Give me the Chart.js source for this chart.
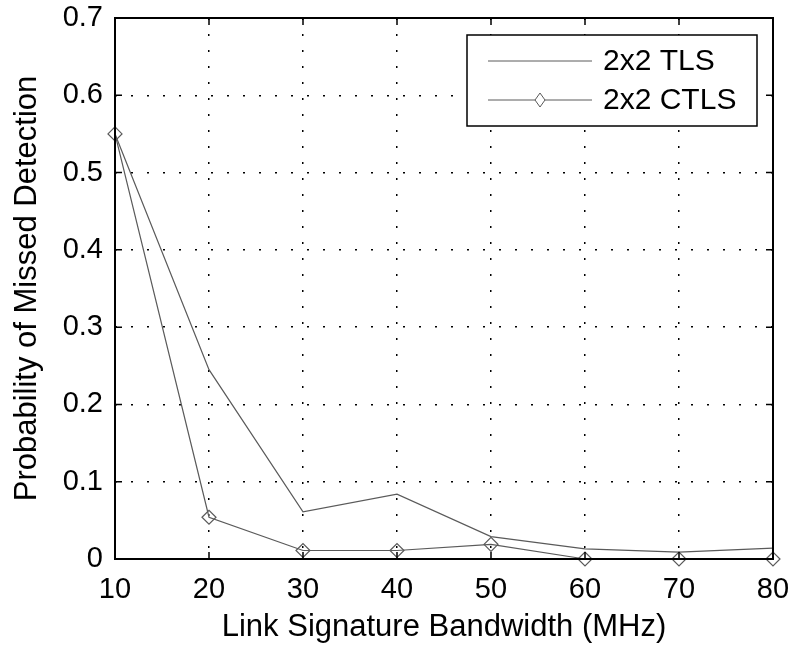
<!DOCTYPE html>
<html>
<head>
<meta charset="utf-8">
<script src="https://cdn.jsdelivr.net/npm/chart.js@4/dist/chart.umd.min.js"></script>
<style>
  html, body { margin: 0; padding: 0; background: #fff; }
  #wrap { width: 795px; height: 650px; }
</style>
</head>
<body>
<div id="wrap"><canvas id="missChart" width="795" height="650"></canvas></div>
<script>
// bandwidth in MHz
const bandwidths = [10, 20, 30, 40, 50, 60, 70, 80];
const tlsValues = [0.55, 0.245, 0.061, 0.084, 0.029, 0.013, 0.009, 0.014];
const ctlsValues = [0.55, 0.054, 0.011, 0.011, 0.019, 0, 0, 0];
const seriesNames = ['2x2 TLS', '2x2 CTLS'];

const FONT = '"Liberation Sans", Arial, Helvetica, sans-serif';
const LINE_COLOR = '#5a5a5a';

// frame, inward ticks and legend box like the matlab figure
const frameLegend = {
    id: 'frameLegend',
    afterDraw(chart) {
        const ctx = chart.ctx;
        const a = chart.chartArea;
        const xs = chart.scales.x, ys = chart.scales.y;
        ctx.save();
        ctx.strokeStyle = '#000';
        ctx.lineWidth = 2;
        ctx.strokeRect(a.left, a.top, a.right - a.left, a.bottom - a.top);

        ctx.lineWidth = 1.5;
        ctx.beginPath();
        xs.ticks.forEach(t => {
            const px = xs.getPixelForValue(t.value);
            ctx.moveTo(px, a.bottom); ctx.lineTo(px, a.bottom - 7);
            ctx.moveTo(px, a.top); ctx.lineTo(px, a.top + 7);
        });
        ys.ticks.forEach(t => {
            const py = ys.getPixelForValue(t.value);
            ctx.moveTo(a.left, py); ctx.lineTo(a.left + 7, py);
            ctx.moveTo(a.right, py); ctx.lineTo(a.right - 7, py);
        });
        ctx.stroke();

        // legend
        const bx = 467, by = 35, bw = 290, bh = 91;
        ctx.fillStyle = '#fff';
        ctx.fillRect(bx, by, bw, bh);
        ctx.lineWidth = 1.5;
        ctx.strokeRect(bx, by, bw, bh);
        const rows = [61, 100];
        chart.data.datasets.forEach((ds, i) => {
            const y = rows[i];
            ctx.strokeStyle = ds.borderColor;
            ctx.lineWidth = 1;
            ctx.beginPath();
            ctx.moveTo(488, y); ctx.lineTo(592, y);
            ctx.stroke();
            if (ds.pointRadius > 0) {
                ctx.beginPath();
                ctx.moveTo(540, y - 7); ctx.lineTo(545, y);
                ctx.lineTo(540, y + 7); ctx.lineTo(535, y);
                ctx.closePath();
                ctx.fillStyle = '#fff';
                ctx.fill();
                ctx.stroke();
            }
            ctx.fillStyle = '#000';
            ctx.font = '30px ' + FONT;
            ctx.textBaseline = 'middle';
            ctx.textAlign = 'left';
            ctx.fillText(ds.label, 603, y + 1);
        });
        ctx.restore();
    }
};

const ctx = document.getElementById('missChart').getContext('2d');
const missChart = new Chart(ctx, {
    type: 'line',
    data: {
        datasets: [
            {
                label: seriesNames[0],
                data: bandwidths.map((b, i) => ({ x: b, y: tlsValues[i] })),
                borderColor: LINE_COLOR,
                borderWidth: 1.2,
                pointRadius: 0,
                tension: 0,
                clip: false
            },
            {
                label: seriesNames[1],
                data: bandwidths.map((b, i) => ({ x: b, y: ctlsValues[i] })),
                borderColor: LINE_COLOR,
                borderWidth: 1.2,
                pointStyle: 'rectRot',
                pointRadius: 7,
                pointBorderWidth: 1.2,
                pointBackgroundColor: 'rgba(255,255,255,0)',
                pointBorderColor: LINE_COLOR,
                tension: 0,
                clip: false
            }
        ]
    },
    options: {
        responsive: false,
        animation: false,
        layout: { padding: { left: 0, right: 22, top: 18, bottom: 0 } },
        plugins: {
            legend: { display: false },
            tooltip: { enabled: false }
        },
        scales: {
            x: {
                type: 'linear',
                min: 10,
                max: 80,
                afterFit: s => { s.height = 91; s.paddingLeft = 0; s.paddingRight = 0; },
                ticks: {
                    stepSize: 10,
                    color: '#000',
                    padding: 14,
                    font: { family: FONT, size: 29 }
                },
                grid: {
                    color: '#000',
                    lineWidth: 1.5,
                    drawTicks: false
                },
                border: { display: false, dash: [2, 14] },
                title: {
                    display: true,
                    text: 'Link Signature Bandwidth (MHz)',
                    color: '#000',
                    font: { family: FONT, size: 31 },
                    padding: { top: 0, bottom: 4 }
                }
            },
            y: {
                min: 0,
                max: 0.7,
                afterFit: s => { s.width = 115; s.paddingTop = 0; s.paddingBottom = 0; },
                ticks: {
                    stepSize: 0.1,
                    color: '#000',
                    padding: 12,
                    font: { family: FONT, size: 29 },
                    callback: v => String(Number(v.toFixed(1)))
                },
                grid: {
                    color: '#000',
                    lineWidth: 1.5,
                    drawTicks: false
                },
                border: { display: false, dash: [2, 14] },
                title: {
                    display: true,
                    text: 'Probability of Missed Detection',
                    color: '#000',
                    font: { family: FONT, size: 31 },
                    padding: { top: 9, bottom: 0 }
                }
            }
        }
    },
    plugins: [frameLegend]
});
</script>
</body>
</html>
